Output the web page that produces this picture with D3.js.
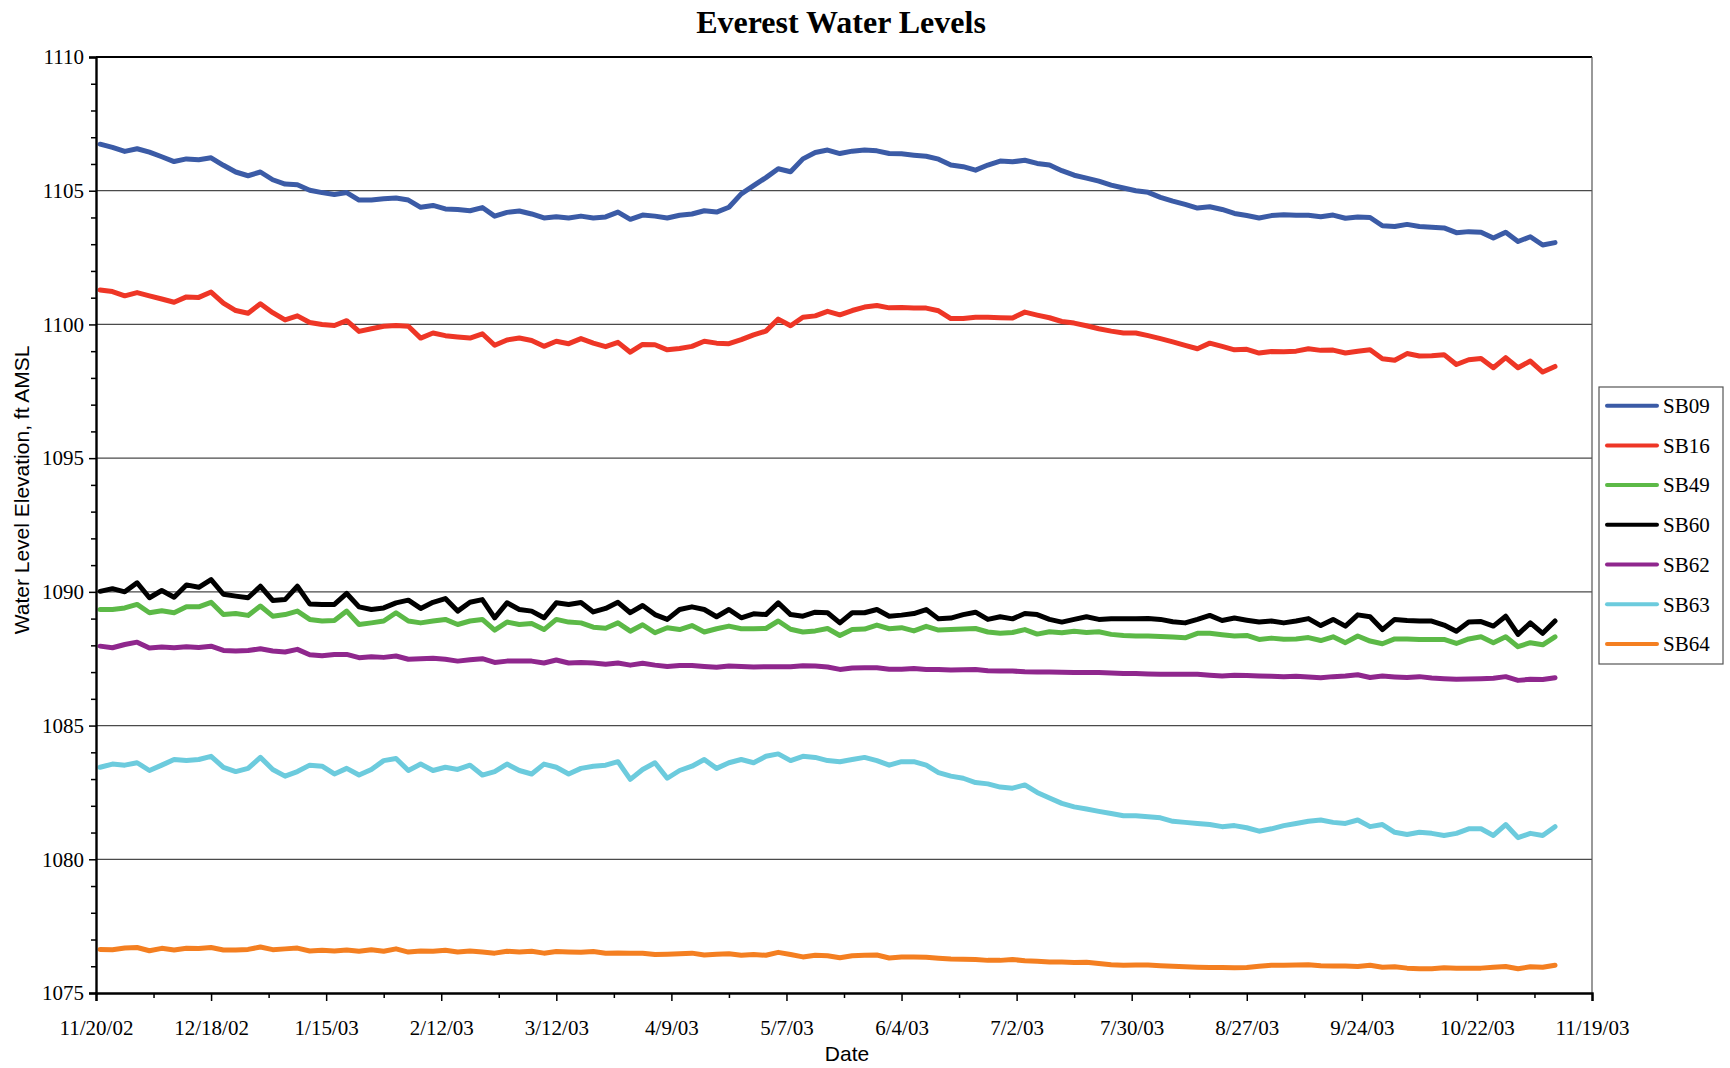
<!DOCTYPE html>
<html>
<head>
<meta charset="utf-8">
<title>Everest Water Levels</title>
<script src="https://cdn.jsdelivr.net/npm/d3@7"></script>
<style>
  html, body { margin: 0; padding: 0; background: #ffffff; }
  svg { display: block; }
</style>
</head>
<body>
<svg id="chart" width="1730" height="1068"></svg>
<script>
// Sampling grid: one reading every 3 days, starting the day after the axis origin
const firstSampleDate = "11/21/02";
const sampleStepDays = 3;

const seriesNames = ["SB09", "SB16", "SB49", "SB60", "SB62", "SB63", "SB64"];
const seriesColors = ["#3b5ba6", "#ee3626", "#5cb947", "#000000", "#8f278d", "#6ccbdd", "#f47f21"];

const xTickLabels = ["11/20/02", "12/18/02", "1/15/03", "2/12/03", "3/12/03", "4/9/03", "5/7/03",
  "6/4/03", "7/2/03", "7/30/03", "8/27/03", "9/24/03", "10/22/03", "11/19/03"];
const yTickValues = [1075, 1080, 1085, 1090, 1095, 1100, 1105, 1110];

// Water level elevations, ft AMSL
const sb09 = [1106.74, 1106.62, 1106.47, 1106.57, 1106.44, 1106.27, 1106.09, 1106.19, 1106.16, 1106.23,
  1105.95, 1105.70, 1105.56, 1105.70, 1105.41, 1105.25, 1105.22, 1105.02, 1104.93, 1104.86,
  1104.93, 1104.65, 1104.65, 1104.70, 1104.73, 1104.65, 1104.38, 1104.45, 1104.32, 1104.30,
  1104.25, 1104.37, 1104.05, 1104.19, 1104.24, 1104.13, 1103.98, 1104.03, 1103.98, 1104.05,
  1103.98, 1104.02, 1104.20, 1103.93, 1104.09, 1104.05, 1103.98, 1104.08, 1104.13, 1104.25,
  1104.20, 1104.38, 1104.88, 1105.19, 1105.49, 1105.82, 1105.71, 1106.19, 1106.43, 1106.52,
  1106.39, 1106.48, 1106.52, 1106.49, 1106.39, 1106.38, 1106.33, 1106.29, 1106.18, 1105.96,
  1105.90, 1105.77, 1105.96, 1106.11, 1106.08, 1106.14, 1106.02, 1105.96, 1105.75, 1105.58,
  1105.47, 1105.36, 1105.21, 1105.10, 1105.00, 1104.94, 1104.75, 1104.61, 1104.49, 1104.35,
  1104.40, 1104.30, 1104.15, 1104.07, 1103.98, 1104.07, 1104.10, 1104.08, 1104.08, 1104.03,
  1104.09, 1103.97, 1104.02, 1104.00, 1103.69, 1103.66, 1103.74, 1103.66, 1103.63, 1103.61,
  1103.43, 1103.47, 1103.45, 1103.23, 1103.45, 1103.10, 1103.28, 1102.97, 1103.06];

const sb16 = [1101.29, 1101.23, 1101.07, 1101.19, 1101.07, 1100.95, 1100.83, 1101.03, 1101.01, 1101.21,
  1100.80, 1100.52, 1100.42, 1100.77, 1100.44, 1100.17, 1100.32, 1100.07, 1100.00, 1099.96,
  1100.14, 1099.74, 1099.84, 1099.93, 1099.96, 1099.93, 1099.49, 1099.68, 1099.58, 1099.53,
  1099.49, 1099.65, 1099.22, 1099.42, 1099.49, 1099.40, 1099.18, 1099.37, 1099.28, 1099.47,
  1099.30, 1099.17, 1099.33, 1098.96, 1099.25, 1099.24, 1099.05, 1099.10, 1099.18, 1099.37,
  1099.30, 1099.28, 1099.43, 1099.61, 1099.75, 1100.20, 1099.95, 1100.27, 1100.32, 1100.49,
  1100.36, 1100.52, 1100.65, 1100.71, 1100.62, 1100.63, 1100.61, 1100.61, 1100.51, 1100.22,
  1100.22, 1100.27, 1100.27, 1100.25, 1100.24, 1100.46, 1100.35, 1100.25, 1100.11, 1100.05,
  1099.95, 1099.84, 1099.75, 1099.68, 1099.68, 1099.58, 1099.47, 1099.35, 1099.22, 1099.09,
  1099.30, 1099.18, 1099.05, 1099.07, 1098.93, 1098.99, 1098.98, 1099.00, 1099.09, 1099.03,
  1099.04, 1098.93, 1099.00, 1099.05, 1098.72, 1098.66, 1098.91, 1098.82, 1098.83, 1098.87,
  1098.50, 1098.68, 1098.73, 1098.38, 1098.76, 1098.38, 1098.63, 1098.22, 1098.43];

const sb49 = [1089.34, 1089.34, 1089.40, 1089.53, 1089.22, 1089.29, 1089.22, 1089.44, 1089.44, 1089.61,
  1089.15, 1089.19, 1089.12, 1089.47, 1089.09, 1089.15, 1089.28, 1088.97, 1088.91, 1088.93,
  1089.28, 1088.78, 1088.84, 1088.91, 1089.22, 1088.91, 1088.84, 1088.91, 1088.97, 1088.78,
  1088.91, 1088.97, 1088.57, 1088.87, 1088.78, 1088.82, 1088.59, 1088.97, 1088.87, 1088.84,
  1088.68, 1088.64, 1088.84, 1088.53, 1088.77, 1088.47, 1088.66, 1088.59, 1088.74, 1088.50,
  1088.62, 1088.72, 1088.62, 1088.62, 1088.63, 1088.91, 1088.60, 1088.50, 1088.54, 1088.63,
  1088.37, 1088.59, 1088.61, 1088.76, 1088.62, 1088.66, 1088.54, 1088.71, 1088.57, 1088.59,
  1088.61, 1088.63, 1088.50, 1088.45, 1088.48, 1088.59, 1088.42, 1088.51, 1088.47, 1088.53,
  1088.48, 1088.51, 1088.41, 1088.37, 1088.35, 1088.35, 1088.33, 1088.31, 1088.28, 1088.45,
  1088.45, 1088.40, 1088.35, 1088.37, 1088.22, 1088.27, 1088.23, 1088.24, 1088.29, 1088.18,
  1088.32, 1088.10, 1088.35, 1088.16, 1088.06, 1088.24, 1088.24, 1088.22, 1088.22, 1088.22,
  1088.07, 1088.24, 1088.32, 1088.10, 1088.32, 1087.95, 1088.10, 1088.02, 1088.32];

const sb60 = [1090.02, 1090.12, 1090.00, 1090.34, 1089.78, 1090.05, 1089.80, 1090.26, 1090.17, 1090.46,
  1089.91, 1089.84, 1089.78, 1090.21, 1089.68, 1089.71, 1090.21, 1089.55, 1089.53, 1089.53,
  1089.94, 1089.44, 1089.34, 1089.40, 1089.59, 1089.69, 1089.38, 1089.61, 1089.75, 1089.28,
  1089.61, 1089.71, 1089.03, 1089.59, 1089.34, 1089.28, 1089.03, 1089.59, 1089.53, 1089.60,
  1089.25, 1089.38, 1089.61, 1089.22, 1089.49, 1089.15, 1088.97, 1089.34, 1089.44, 1089.34,
  1089.07, 1089.34, 1089.03, 1089.18, 1089.15, 1089.59, 1089.15, 1089.09, 1089.24, 1089.22,
  1088.84, 1089.22, 1089.22, 1089.34, 1089.09, 1089.13, 1089.19, 1089.34, 1088.99, 1089.02,
  1089.15, 1089.24, 1088.97, 1089.07, 1088.99, 1089.19, 1089.15, 1088.97, 1088.87, 1088.97,
  1089.07, 1088.97, 1088.99, 1088.99, 1088.99, 1089.00, 1088.97, 1088.88, 1088.84, 1088.97,
  1089.12, 1088.93, 1089.02, 1088.94, 1088.87, 1088.91, 1088.84, 1088.91, 1089.00, 1088.74,
  1088.97, 1088.72, 1089.14, 1089.07, 1088.59, 1088.97, 1088.93, 1088.91, 1088.91, 1088.76,
  1088.53, 1088.87, 1088.89, 1088.72, 1089.09, 1088.41, 1088.84, 1088.45, 1088.91];

const sb62 = [1087.97, 1087.91, 1088.03, 1088.12, 1087.90, 1087.94, 1087.91, 1087.95, 1087.92, 1087.97,
  1087.81, 1087.79, 1087.81, 1087.87, 1087.79, 1087.75, 1087.85, 1087.65, 1087.61, 1087.66,
  1087.66, 1087.54, 1087.57, 1087.55, 1087.60, 1087.48, 1087.50, 1087.52, 1087.48, 1087.41,
  1087.46, 1087.50, 1087.36, 1087.41, 1087.41, 1087.41, 1087.34, 1087.45, 1087.34, 1087.36,
  1087.34, 1087.29, 1087.34, 1087.26, 1087.33, 1087.26, 1087.21, 1087.25, 1087.25, 1087.21,
  1087.18, 1087.23, 1087.21, 1087.19, 1087.20, 1087.20, 1087.20, 1087.24, 1087.23, 1087.19,
  1087.10, 1087.15, 1087.16, 1087.16, 1087.11, 1087.11, 1087.13, 1087.10, 1087.10, 1087.08,
  1087.09, 1087.10, 1087.05, 1087.04, 1087.04, 1087.01, 1087.00, 1087.00, 1086.99, 1086.98,
  1086.98, 1086.98, 1086.97, 1086.95, 1086.95, 1086.93, 1086.92, 1086.92, 1086.92, 1086.92,
  1086.88, 1086.85, 1086.88, 1086.87, 1086.85, 1086.84, 1086.83, 1086.84, 1086.82, 1086.79,
  1086.83, 1086.85, 1086.90, 1086.80, 1086.85, 1086.82, 1086.80, 1086.83, 1086.78, 1086.75,
  1086.73, 1086.74, 1086.75, 1086.77, 1086.83, 1086.69, 1086.73, 1086.72, 1086.79];

const sb63 = [1083.44, 1083.56, 1083.52, 1083.61, 1083.32, 1083.52, 1083.73, 1083.69, 1083.73, 1083.85,
  1083.44, 1083.28, 1083.40, 1083.81, 1083.36, 1083.11, 1083.28, 1083.52, 1083.48, 1083.19,
  1083.40, 1083.15, 1083.36, 1083.69, 1083.77, 1083.32, 1083.56, 1083.32, 1083.44, 1083.36,
  1083.52, 1083.15, 1083.28, 1083.56, 1083.32, 1083.19, 1083.56, 1083.44, 1083.19, 1083.40,
  1083.48, 1083.52, 1083.65, 1082.99, 1083.36, 1083.61, 1083.03, 1083.32, 1083.48, 1083.73,
  1083.40, 1083.61, 1083.73, 1083.61, 1083.85, 1083.94, 1083.69, 1083.85, 1083.81, 1083.69,
  1083.65, 1083.73, 1083.81, 1083.69, 1083.52, 1083.65, 1083.65, 1083.52, 1083.24, 1083.11,
  1083.03, 1082.87, 1082.82, 1082.70, 1082.66, 1082.78, 1082.50, 1082.29, 1082.09, 1081.96,
  1081.88, 1081.79, 1081.71, 1081.63, 1081.63, 1081.59, 1081.55, 1081.42, 1081.38, 1081.34,
  1081.30, 1081.22, 1081.26, 1081.18, 1081.05, 1081.14, 1081.26, 1081.34, 1081.42, 1081.47,
  1081.38, 1081.34, 1081.47, 1081.22, 1081.30, 1081.01, 1080.93, 1081.01, 1080.97, 1080.89,
  1080.97, 1081.14, 1081.14, 1080.89, 1081.30, 1080.81, 1080.97, 1080.89, 1081.22];

const sb64 = [1076.63, 1076.62, 1076.68, 1076.70, 1076.58, 1076.67, 1076.61, 1076.67, 1076.66, 1076.70,
  1076.61, 1076.61, 1076.63, 1076.72, 1076.62, 1076.65, 1076.68, 1076.57, 1076.60, 1076.57,
  1076.61, 1076.56, 1076.62, 1076.56, 1076.65, 1076.53, 1076.57, 1076.56, 1076.60, 1076.53,
  1076.57, 1076.53, 1076.49, 1076.56, 1076.53, 1076.56, 1076.49, 1076.55, 1076.53, 1076.52,
  1076.55, 1076.49, 1076.50, 1076.49, 1076.49, 1076.44, 1076.45, 1076.47, 1076.49, 1076.42,
  1076.45, 1076.47, 1076.41, 1076.44, 1076.41, 1076.52, 1076.44, 1076.35, 1076.41, 1076.39,
  1076.32, 1076.39, 1076.41, 1076.42, 1076.31, 1076.35, 1076.35, 1076.34, 1076.30, 1076.27,
  1076.26, 1076.25, 1076.22, 1076.22, 1076.25, 1076.21, 1076.19, 1076.16, 1076.16, 1076.14,
  1076.15, 1076.10, 1076.06, 1076.04, 1076.05, 1076.05, 1076.02, 1076.00, 1075.98, 1075.96,
  1075.95, 1075.95, 1075.94, 1075.95, 1076.00, 1076.04, 1076.04, 1076.05, 1076.06, 1076.02,
  1076.01, 1076.01, 1075.99, 1076.04, 1075.96, 1075.98, 1075.93, 1075.91, 1075.91, 1075.94,
  1075.93, 1075.93, 1075.93, 1075.96, 1075.99, 1075.91, 1075.98, 1075.96, 1076.04];

const seriesValues = [sb09, sb16, sb49, sb60, sb62, sb63, sb64];

// ---- layout ----
const plot = { left: 96, top: 57, right: 1592, bottom: 993 };
const serif = "'Liberation Serif', 'Times New Roman', Times, serif";
const sans = "'Liberation Sans', Arial, Helvetica, sans-serif";

const parseDate = d3.utcParse("%m/%d/%y");
const tickDates = xTickLabels.map(parseDate);
const startDate = parseDate(firstSampleDate);
const sampleDates = sb09.map((_, i) => d3.utcDay.offset(startDate, i * sampleStepDays));

const x = d3.scaleUtc()
  .domain([tickDates[0], tickDates[tickDates.length - 1]])
  .range([plot.left, plot.right]);
const y = d3.scaleLinear()
  .domain([yTickValues[0], yTickValues[yTickValues.length - 1]])
  .range([plot.bottom, plot.top]);

const svg = d3.select("#chart");

// Title
svg.append("text")
  .attr("x", (plot.left + plot.right) / 2 - 3)
  .attr("y", 33)
  .attr("text-anchor", "middle")
  .attr("font-family", serif)
  .attr("font-weight", "bold")
  .attr("font-size", 32)
  .attr("fill", "#000")
  .text("Everest Water Levels");

// Horizontal gridlines
svg.append("g")
  .selectAll("line")
  .data(yTickValues.slice(1, -1))
  .join("line")
  .attr("x1", plot.left).attr("x2", plot.right)
  .attr("y1", d => y(d)).attr("y2", d => y(d))
  .attr("stroke", "#4a4a4a")
  .attr("stroke-width", 1.2);

// Top and right frame
svg.append("line")
  .attr("x1", plot.left).attr("x2", plot.right)
  .attr("y1", y(1110)).attr("y2", y(1110))
  .attr("stroke", "#000").attr("stroke-width", 2);
svg.append("line")
  .attr("x1", plot.right).attr("x2", plot.right)
  .attr("y1", plot.top).attr("y2", plot.bottom)
  .attr("stroke", "#555").attr("stroke-width", 1.2);

// Series lines
const line = d3.line()
  .x((d, i) => x(sampleDates[i]))
  .y(d => y(d));

svg.append("g")
  .selectAll("path")
  .data(seriesValues)
  .join("path")
  .attr("d", d => line(d))
  .attr("fill", "none")
  .attr("stroke", (d, i) => seriesColors[i])
  .attr("stroke-width", 5)
  .attr("stroke-linejoin", "round")
  .attr("stroke-linecap", "round");

// Y axis: major ticks every 5 ft, minor every 1 ft
const minorY = d3.range(yTickValues[0], yTickValues[yTickValues.length - 1] + 1, 1)
  .filter(v => !yTickValues.includes(v));
svg.append("g")
  .attr("transform", `translate(${plot.left},0)`)
  .call(d3.axisLeft(y).tickValues(minorY).tickSize(5).tickFormat(""))
  .call(g => g.select(".domain").remove())
  .call(g => g.selectAll("line").attr("stroke", "#000").attr("stroke-width", 1.5));

const yAxis = svg.append("g")
  .attr("transform", `translate(${plot.left},0)`)
  .call(d3.axisLeft(y).tickValues(yTickValues).tickSize(7).tickPadding(5).tickFormat(d3.format("d")));
yAxis.select(".domain").attr("stroke", "#000").attr("stroke-width", 2.4);
yAxis.selectAll(".tick line").attr("stroke", "#000").attr("stroke-width", 1.5);
yAxis.selectAll("text")
  .attr("font-family", serif).attr("font-size", 21).attr("fill", "#000");

// X axis: labelled ticks every 28 days, minor ticks half-way between
const minorX = tickDates.slice(0, -1).map((d, i) => new Date((+d + +tickDates[i + 1]) / 2));
svg.append("g")
  .attr("transform", `translate(0,${plot.bottom})`)
  .call(d3.axisBottom(x).tickValues(minorX).tickSize(5).tickFormat(""))
  .call(g => g.select(".domain").remove())
  .call(g => g.selectAll("line").attr("stroke", "#000").attr("stroke-width", 1.5));

const xAxis = svg.append("g")
  .attr("transform", `translate(0,${plot.bottom})`)
  .call(d3.axisBottom(x).tickValues(tickDates).tickSize(8)
    .tickFormat((d, i) => xTickLabels[i]));
xAxis.select(".domain").attr("stroke", "#000").attr("stroke-width", 2.4);
xAxis.selectAll(".tick line").attr("stroke", "#000").attr("stroke-width", 1.5);
xAxis.selectAll("text")
  .attr("y", 42).attr("dy", 0)
  .attr("font-family", serif).attr("font-size", 21).attr("fill", "#000");

// Axis titles
svg.append("text")
  .attr("transform", "translate(29,490) rotate(-90)")
  .attr("text-anchor", "middle")
  .attr("font-family", sans).attr("font-size", 21).attr("fill", "#000")
  .text("Water Level Elevation, ft AMSL");
svg.append("text")
  .attr("x", 847).attr("y", 1061)
  .attr("text-anchor", "middle")
  .attr("font-family", sans).attr("font-size", 21).attr("fill", "#000")
  .text("Date");

// Legend
const legend = svg.append("g").attr("transform", "translate(1599,387)");
legend.append("rect")
  .attr("x", 0).attr("y", 0).attr("width", 124).attr("height", 277)
  .attr("fill", "#fff").attr("stroke", "#555").attr("stroke-width", 1.2);
const entry = legend.selectAll("g.entry")
  .data(seriesNames)
  .join("g")
  .attr("class", "entry")
  .attr("transform", (d, i) => `translate(0,${18.7 + i * 39.7})`);
entry.append("line")
  .attr("x1", 8).attr("x2", 58).attr("y1", 0).attr("y2", 0)
  .attr("stroke", (d, i) => seriesColors[i])
  .attr("stroke-width", 4)
  .attr("stroke-linecap", "round");
entry.append("text")
  .attr("x", 64).attr("y", 0).attr("dy", "0.35em")
  .attr("font-family", serif).attr("font-size", 21).attr("fill", "#000")
  .text(d => d);
</script>
</body>
</html>
